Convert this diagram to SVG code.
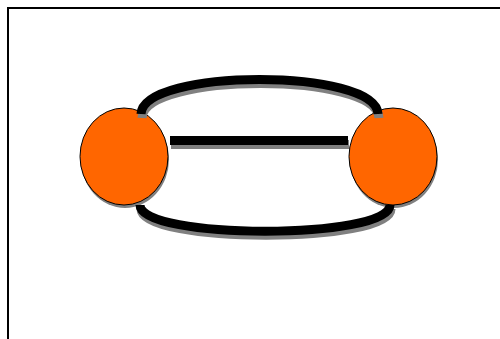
<svg xmlns="http://www.w3.org/2000/svg" width="500" height="339" viewBox="0 0 500 339">
<style>
.frame{fill:none;stroke:#000;stroke-width:2}
.node{fill:#ff6600;stroke:#000;stroke-width:1}
.nshadow{fill:#808080}
.edge{fill:none;stroke:#000;stroke-width:9}
.eshadow{fill:none;stroke:#808080;stroke-width:9}
</style>
<rect width="500" height="339" fill="#fff"/>
<path class="frame" d="M8,339 V8 H500"/>
<g id="node-left">
<ellipse class="nshadow" cx="125" cy="159.5" rx="44" ry="48.5"/>
<ellipse class="node" cx="124" cy="156.5" rx="44" ry="48.5"/>
</g>
<g id="node-right">
<ellipse class="nshadow" cx="394" cy="159.5" rx="44" ry="48.5"/>
<ellipse class="node" cx="393" cy="156.5" rx="44" ry="48.5"/>
</g>
<g id="connectors">
<g transform="translate(1,4)">
<path class="eshadow" d="M141,114 C143,68 376,68 378,114"/>
<path class="eshadow" d="M170,140.5 H348"/>
<path class="eshadow" d="M140,205 C140,240 390,240 390,205"/>
</g>
<path class="edge" d="M141,114 C143,68 376,68 378,114"/>
<path class="edge" d="M170,140.5 H348"/>
<path class="edge" d="M140,205 C140,240 390,240 390,205"/>
</g>
</svg>
